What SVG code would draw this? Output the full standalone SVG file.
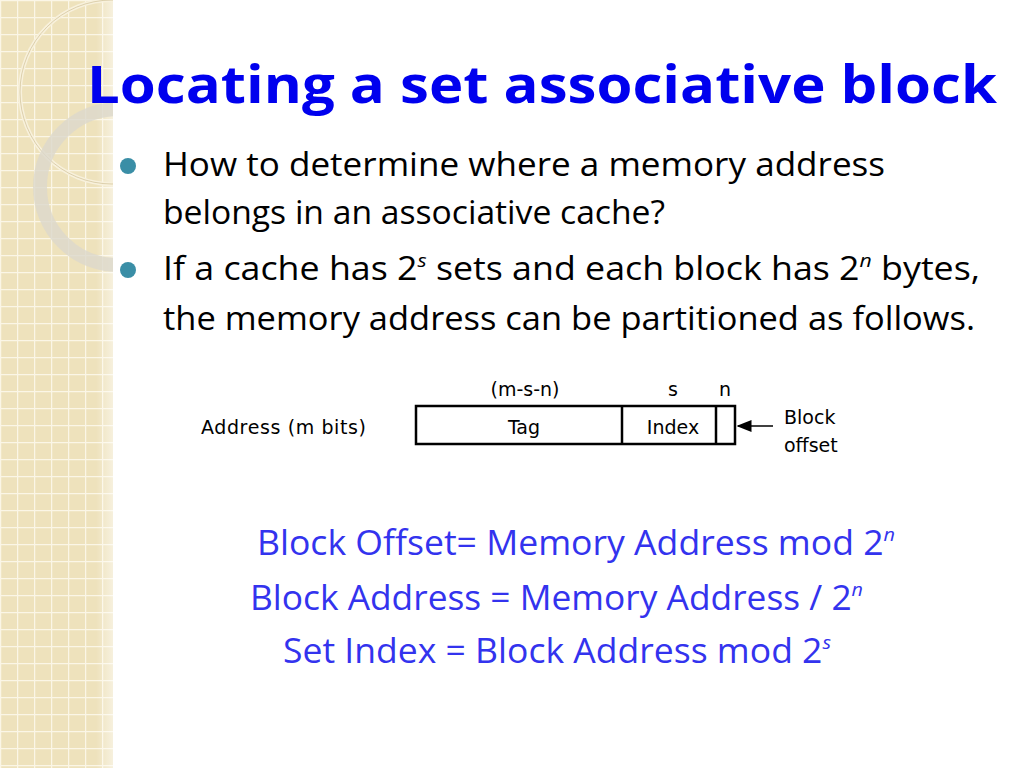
<svg xmlns="http://www.w3.org/2000/svg" width="1024" height="768" viewBox="0 0 1024 768">
<defs>
<pattern id="grid" width="17" height="17" patternUnits="userSpaceOnUse"><rect width="17" height="17" fill="#eee2bc"/><path d="M0 0.5H17M0.5 0V17" stroke="#fbf6e6" stroke-width="1.5"/></pattern>
<linearGradient id="fade" x1="0" x2="1"><stop offset="0.85" stop-color="#fff" stop-opacity="0"/><stop offset="1" stop-color="#fff" stop-opacity="0.5"/></linearGradient>
<clipPath id="sc"><rect width="113" height="768"/></clipPath>
<marker id="ah" markerWidth="10" markerHeight="8" refX="9" refY="4" orient="auto"><path d="M0,0 L10,4 L0,8z" fill="#000"/></marker>
</defs>
<style>
.b{font-family:"Open Sans","Liberation Sans",sans-serif;font-size:32px;fill:#000}
.f{font-family:"Open Sans","Liberation Sans",sans-serif;font-size:34px;fill:#3333ee}
.d{font-family:"DejaVu Sans",sans-serif;font-size:19px;fill:#000}
.sup{font-size:19px}
</style>
<rect width="1024" height="768" fill="#fff"/>
<g id="strip" clip-path="url(#sc)">
<rect width="113" height="768" fill="url(#grid)"/>
<rect width="113" height="768" fill="url(#fade)"/>
<circle cx="112" cy="92" r="92" fill="none" stroke="#f8f1dc" stroke-width="4"/>
<circle cx="112" cy="92" r="92" fill="none" stroke="#c9b98c" stroke-width="1" opacity="0.6"/>
<circle cx="118" cy="187" r="78" fill="none" stroke="#dcd8cc" stroke-width="14" opacity="0.8"/>
</g>
<text x="87" y="103" font-family="'Open Sans','Liberation Sans',sans-serif" font-weight="bold" font-size="52" fill="#0000ee" textLength="910" lengthAdjust="spacingAndGlyphs">Locating a set associative block</text>
<g id="bullets">
<circle cx="128" cy="166" r="8" fill="#3a8ea6"/>
<circle cx="128" cy="270" r="8" fill="#3a8ea6"/>
<text class="b" x="163" y="176" textLength="722" lengthAdjust="spacingAndGlyphs">How to determine where a memory address</text>
<text class="b" x="163" y="224" textLength="502" lengthAdjust="spacingAndGlyphs">belongs in an associative cache?</text>
<text class="b" x="163" y="280" textLength="817" lengthAdjust="spacingAndGlyphs">If a cache has 2<tspan class="sup" dy="-13" font-style="italic">s</tspan><tspan dy="13"> sets and each block has 2</tspan><tspan class="sup" dy="-13" font-style="italic">n</tspan><tspan dy="13"> bytes,</tspan></text>
<text class="b" x="163" y="330" textLength="812" lengthAdjust="spacingAndGlyphs">the memory address can be partitioned as follows.</text>
</g>
<g id="address">
<rect x="416" y="406" width="319" height="38" fill="#fff" stroke="#000" stroke-width="2.5"/>
<line x1="622" y1="406" x2="622" y2="444" stroke="#000" stroke-width="2.5"/>
<line x1="716" y1="406" x2="716" y2="444" stroke="#000" stroke-width="2.5"/>
<text class="d" x="524" y="434" text-anchor="middle">Tag</text>
<text class="d" x="673" y="434" text-anchor="middle">Index</text>
<text class="d" x="525" y="396" text-anchor="middle">(m-s-n)</text>
<text class="d" x="673" y="396" text-anchor="middle">s</text>
<text class="d" x="725" y="396" text-anchor="middle">n</text>
<text class="d" x="201" y="434" textLength="165">Address (m bits)</text>
<text class="d" x="784" y="424">Block</text>
<text class="d" x="784" y="452">offset</text>
</g>
<g id="connectors">
<line x1="773" y1="426" x2="738" y2="426" stroke="#000" stroke-width="1.5" marker-end="url(#ah)"/>
</g>
<g id="formulas">
<text class="f" x="257" y="555" textLength="638" lengthAdjust="spacingAndGlyphs">Block Offset= Memory Address mod 2<tspan class="sup" dy="-14" font-style="italic">n</tspan></text>
<text class="f" x="250" y="610" textLength="613" lengthAdjust="spacingAndGlyphs">Block Address = Memory Address / 2<tspan class="sup" dy="-14" font-style="italic">n</tspan></text>
<text class="f" x="283" y="663" textLength="548" lengthAdjust="spacingAndGlyphs">Set Index = Block Address mod 2<tspan class="sup" dy="-14" font-style="italic">s</tspan></text>
</g>
</svg>
